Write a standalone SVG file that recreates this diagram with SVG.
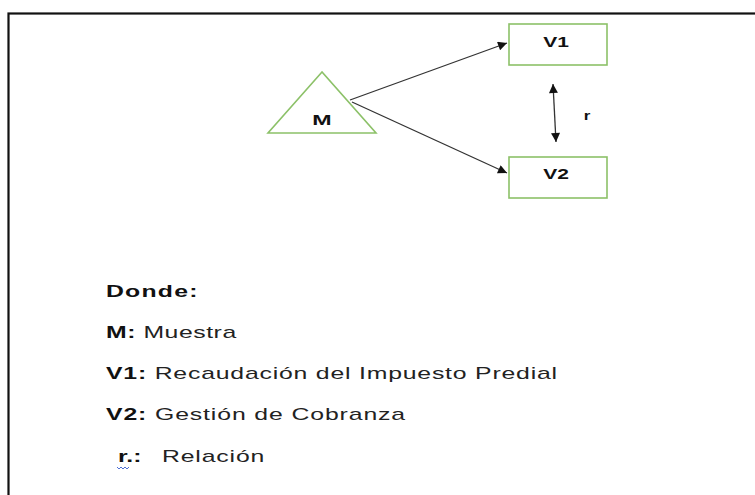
<svg xmlns="http://www.w3.org/2000/svg" width="755" height="495" viewBox="0 0 755 495">
<style>
.node{fill:#ffffff;stroke:#8cc168;stroke-width:1.6}
.lbl{font-family:"Liberation Sans",Arial,sans-serif;font-weight:bold;fill:#111;text-anchor:middle}
.leg{font-family:"Liberation Sans",Arial,sans-serif;font-size:16px;fill:#222}
.b{font-weight:bold;fill:#111}
.conn{stroke:#333;stroke-width:1.3;fill:none}
</style>
<defs>
<marker id="ah" viewBox="0 0 10 10" refX="10" refY="5" markerWidth="11" markerHeight="9" markerUnits="userSpaceOnUse" orient="auto-start-reverse">
<path d="M0,0 L10,5 L0,10 z" fill="#111"/>
</marker>
</defs>
<rect x="0" y="0" width="755" height="495" fill="#ffffff"/>
<rect x="8.5" y="13.5" width="760" height="500" fill="none" stroke="#111" stroke-width="2.2"/>
<g id="connectors">
<line class="conn" x1="350" y1="100" x2="507" y2="43" marker-end="url(#ah)"/>
<line class="conn" x1="352" y1="102" x2="507" y2="173" marker-end="url(#ah)"/>
<line class="conn" x1="553" y1="84" x2="556" y2="142" stroke-width="1.7" marker-start="url(#ah)" marker-end="url(#ah)"/>
</g>
<g id="node-M">
<polygon class="node" points="322,72 268,133 376,133"/>
<text class="lbl" font-size="15.5" transform="translate(322,125) scale(1.5,1)">M</text>
</g>
<g id="node-V1">
<rect class="node" x="509" y="24" width="98" height="41"/>
<text class="lbl" font-size="14" transform="translate(556,47) scale(1.5,1)">V1</text>
</g>
<g id="node-V2">
<rect class="node" x="509" y="157" width="98" height="41"/>
<text class="lbl" font-size="14" transform="translate(556,179) scale(1.5,1)">V2</text>
</g>
<g id="label-r">
<text class="lbl" font-size="13" transform="translate(587,120) scale(1.3,1)">r</text>
</g>
<g id="legend">
<text class="leg" transform="translate(106,297) scale(1.55,1)" x="0" y="0" textLength="59" lengthAdjust="spacing"><tspan class="b">Donde:</tspan></text>
<text class="leg" transform="translate(106,338) scale(1.55,1)" x="0" y="0" textLength="84" lengthAdjust="spacing"><tspan class="b">M:</tspan> Muestra</text>
<text class="leg" transform="translate(106,379) scale(1.55,1)" x="0" y="0" textLength="291" lengthAdjust="spacing"><tspan class="b">V1:</tspan> Recaudación del Impuesto Predial</text>
<text class="leg" transform="translate(106,420) scale(1.55,1)" x="0" y="0" textLength="193" lengthAdjust="spacing"><tspan class="b">V2:</tspan> Gestión de Cobranza</text>
<text class="leg" transform="translate(118,462) scale(1.55,1)" x="0" y="0"><tspan class="b">r.:</tspan></text>
<text class="leg" transform="translate(162,462) scale(1.55,1)" x="0" y="0" textLength="66" lengthAdjust="spacing">Relación</text>
<path d="M117,467 l2,2 l2,-2 l2,2 l2,-2 l2,2 l2,-2" fill="none" stroke="#3a5fd0" stroke-width="0.9"/>
</g>
</svg>
